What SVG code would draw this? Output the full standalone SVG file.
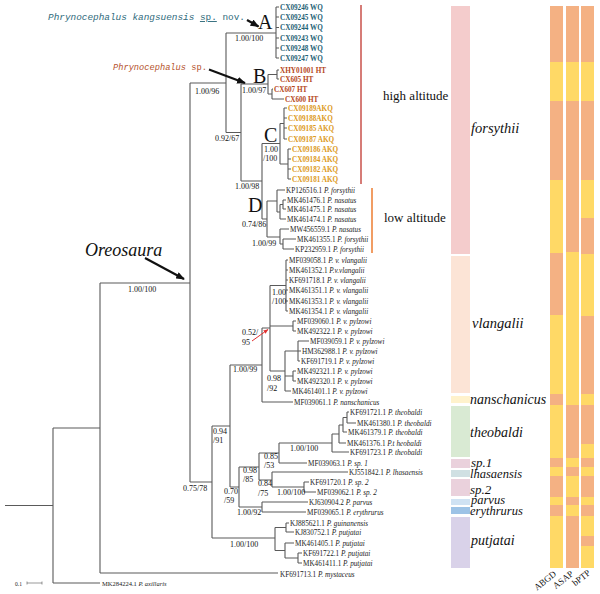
<svg xmlns="http://www.w3.org/2000/svg" width="600" height="594" viewBox="0 0 600 594">
<defs>
<style>
.br{stroke:#5a5a5a;stroke-width:1.1;fill:none}
.t{font-family:"Liberation Serif",serif;font-size:7.2px;fill:#222}
.i{font-style:italic}
.b{font-weight:bold}
.ta{fill:#1f6275}
.tb{fill:#b5471b}
.tc{fill:#dc9a1c}
.s{font-family:"Liberation Serif",serif;font-size:8px;fill:#111}
.big{font-family:"Liberation Serif",serif;font-size:20px;fill:#111}
.sp{font-family:"Liberation Serif",serif;font-style:italic;font-size:14.5px;fill:#111}
.alt{font-family:"Liberation Serif",serif;font-size:13px;fill:#111}
.hd{font-family:"Liberation Mono",monospace}
.o{fill:#f4b183}
.y{fill:#ffd966}
.arw{stroke:#111;stroke-width:2.2;fill:none}
</style>
<marker id="ah" viewBox="0 0 10 8" refX="9" refY="4" markerWidth="9" markerHeight="7" markerUnits="userSpaceOnUse" orient="auto"><path d="M0 0L10 4L0 8z" fill="#111"/></marker>
<marker id="ahr" viewBox="0 0 10 8" refX="9" refY="4" markerWidth="5" markerHeight="4" markerUnits="userSpaceOnUse" orient="auto"><path d="M0 0L10 4L0 8z" fill="#e03030"/></marker>
</defs>
<rect width="600" height="594" fill="#fff"/>

<g id="connectors">
<path class="br" d="M5 505.5H53M53 428V583M53 428H100M53 583H100
M100 283V573M100 283H190M100 573H278
M190 83V482M190 83H226M190 482H212
M226 33V132.5M226 33H276M226 132.5H241
M276 7V58M276 7H279M276 17H279M276 27.5H279M276 38H279M276 48H279M276 58H279
M241 84V181M241 84H268M241 181H262
M268 74.5V94M268 74.5H277M268 94H272
M277 70V79M277 70H279M277 79H279
M272 89V99M272 89H273M272 99H284
M262 143.5V219M262 143.5H280M262 219H267
M280 123.5V164M280 123.5H284M280 164H288
M284 108V139M284 108H287M284 118H287M284 128H287M284 139H287
M288 149V179M288 149H291M288 159H291M288 169H291M288 179H291
M267 201V237M267 201H277M267 237H280
M277 190V212M277 190H285M277 212H280
M280 204.5V219M280 204.5H283M280 219H286
M283 200V209M283 200H286M283 209H286
M280 229V244M280 229H289M280 244H283
M283 239V249M283 239H296M283 249H294
M212 426V538M212 426H230M212 538H275
M230 365V487M230 365H262M230 487H239
M262 328V402M262 328H270M262 402H293
M270 285.5V371M270 285.5H286M270 326H293M270 371H285
M286 260V311M286 260H288M286 270H288M286 280H288M286 290H288M286 301H288M286 311H288
M293 321V331M293 321H296M293 331H296
M285 351V391M285 351H298M285 376H293M285 391H291
M298 341V361M298 341H309M298 351H301M298 361H300
M293 371V381M293 371H296M293 381H296
M239 467V507M239 467H259M239 507H262
M259 453V480M259 453H279M259 480H272
M279 443V463M279 443H332M279 463H307
M332 434V452M332 434H339M332 452H349
M339 425V443M339 425H343M339 443H346
M343 417.5V432M343 417.5H347M343 432H347
M347 412V423M347 412H349M347 423H356
M272 472V487M272 472H348M272 487H304
M304 482V492M304 482H309M304 492H316
M262 502V512M262 502H308M262 512H306
M275 527.5V550.5M275 527.5H286M275 550.5H285
M286 523V532M286 523H289M286 532H294
M285 543V558M285 543H294M285 558H298
M298 553V563M298 553H302M298 563H302"/>
<path class="arw" d="M247 20L258.5 26.5" marker-end="url(#ah)"/>
<path class="arw" d="M209 69.5L245 83" marker-end="url(#ah)"/>
<path class="arw" d="M145 258L184 279" marker-end="url(#ah)"/>
<path d="M252 341L268 329.5" stroke="#e03030" stroke-width="1" marker-end="url(#ahr)"/>
<path d="M361 5V184" stroke="#c9504a" stroke-width="1.5"/>
<path d="M372 188V253" stroke="#ed7d31" stroke-width="1.5"/>
</g>

<g id="header-kangsuensis">
<text class="hd" x="48" y="20" font-size="9.4" fill="#2f6b7c"><tspan font-style="italic">Phrynocephalus kangsuensis</tspan> <tspan text-decoration="underline">sp.</tspan> nov.</text>
</g>
<g id="header-sp">
<text class="hd" x="113" y="70" font-size="8.7" fill="#b5532d"><tspan font-style="italic">Phrynocephalus</tspan> sp.</text>
</g>
<g id="header-oreosaura">
<text x="85" y="256" font-family="Liberation Serif,serif" font-style="italic" font-size="18" fill="#111">Oreosaura</text>
</g>

<g id="clade-letters">
<text class="big" x="258" y="28.5">A</text>
<text class="big" x="253" y="83">B</text>
<text class="big" x="264" y="142">C</text>
<text class="big" x="248" y="212">D</text>
</g>

<g id="supports">
<text class="s" x="235" y="41">1.00/100</text>
<text class="s" x="195" y="94">1.00/96</text>
<text class="s" x="242" y="93">1.00/97</text>
<text class="s" x="215" y="141">0.92/67</text>
<text class="s" x="264" y="152" font-size="8.5">1.00</text>
<text class="s" x="263" y="161" font-size="8.5">/100</text>
<text class="s" x="235" y="189">1.00/98</text>
<text class="s" x="242" y="227">0.74/86</text>
<text class="s" x="252" y="246">1.00/99</text>
<text class="s" x="272" y="295" font-size="8.5">1.00</text>
<text class="s" x="272" y="304" font-size="8.5">/100</text>
<text class="s" x="242" y="335" font-size="7.5">0.52/</text>
<text class="s" x="242" y="344.5" font-size="8.5">95</text>
<text class="s" x="233" y="372">1.00/99</text>
<text class="s" x="267" y="381" font-size="9.5">0.98</text>
<text class="s" x="267" y="391" font-size="9.5">/92</text>
<text class="s" x="213" y="434" font-size="8.5">0.94</text>
<text class="s" x="213" y="443" font-size="8.5">/91</text>
<text class="s" x="290" y="451" font-size="9">1.00/100</text>
<text class="s" x="264" y="459">0.85</text>
<text class="s" x="264" y="468">/53</text>
<text class="s" x="243" y="473">0.98</text>
<text class="s" x="243" y="482">/85</text>
<text class="s" x="258" y="486">0.84</text>
<text class="s" x="258" y="496">/75</text>
<text class="s" x="277" y="495" font-size="8.5">1.00/100</text>
<text class="s" x="183" y="491" font-size="8.5">0.75/78</text>
<text class="s" x="224" y="494" font-size="8.5">0.70</text>
<text class="s" x="224" y="503" font-size="8.5">/59</text>
<text class="s" x="237" y="515" font-size="8.5">1.00/92</text>
<text class="s" x="230" y="547" font-size="9">1.00/100</text>
<text class="s" x="128" y="292" font-size="10.5">1.00/100</text>
</g>

<g id="tips-A" class="t b ta">
<g id="t-CX09246"><text x="280" y="9.5">CX09246 WQ</text></g>
<g id="t-CX09245"><text x="280" y="19.5">CX09245 WQ</text></g>
<g id="t-CX09244"><text x="280" y="30">CX09244 WQ</text></g>
<g id="t-CX09243"><text x="280" y="40.5">CX09243 WQ</text></g>
<g id="t-CX09248"><text x="280" y="50.5">CX09248 WQ</text></g>
<g id="t-CX09247"><text x="280" y="60.5">CX09247 WQ</text></g>
</g>
<g id="tips-B" class="t b tb">
<g id="t-XHY01001"><text x="280" y="72.5">XHY01001 HT</text></g>
<g id="t-CX605"><text x="280" y="81.5">CX605 HT</text></g>
<g id="t-CX607"><text x="274" y="91.5">CX607 HT</text></g>
<g id="t-CX600"><text x="285" y="101.5">CX600 HT</text></g>
</g>
<g id="tips-C" class="t b tc">
<g id="t-CX09189"><text x="288" y="110.5">CX09189AKQ</text></g>
<g id="t-CX09188"><text x="288" y="120.5">CX09188AKQ</text></g>
<g id="t-CX09185"><text x="288" y="130.5">CX09185 AKQ</text></g>
<g id="t-CX09187"><text x="288" y="141.5">CX09187 AKQ</text></g>
<g id="t-CX09186"><text x="292" y="151.5">CX09186 AKQ</text></g>
<g id="t-CX09184"><text x="292" y="161.5">CX09184 AKQ</text></g>
<g id="t-CX09182"><text x="292" y="171.5">CX09182 AKQ</text></g>
<g id="t-CX09181"><text x="292" y="181.5">CX09181 AKQ</text></g>
</g>
<g id="tips-other" class="t">
<g id="t-KP126516"><text x="286" y="192.5">KP126516.1 <tspan class="i">P. forsythii</tspan></text></g>
<g id="t-MK461476"><text x="287" y="202.5">MK461476.1 <tspan class="i">P. nasatus</tspan></text></g>
<g id="t-MK461475"><text x="287" y="211.5">MK461475.1 <tspan class="i">P. nasatus</tspan></text></g>
<g id="t-MK461474"><text x="287" y="221.5">MK461474.1 <tspan class="i">P. nasatus</tspan></text></g>
<g id="t-MW456559"><text x="290" y="231.5">MW456559.1 <tspan class="i">P. nasatus</tspan></text></g>
<g id="t-MK461355"><text x="297" y="241.5">MK461355.1 <tspan class="i">P. forsythii</tspan></text></g>
<g id="t-KP232959"><text x="295" y="251.5">KP232959.1 <tspan class="i">P. forsythii</tspan></text></g>
<g id="t-MF039058"><text x="289" y="262.5">MF039058.1 <tspan class="i">P. v. vlangalii</tspan></text></g>
<g id="t-MK461352"><text x="289" y="272.5">MK461352.1 <tspan class="i">P.v.vlangalii</tspan></text></g>
<g id="t-KF691718"><text x="289" y="282.5">KF691718.1 <tspan class="i">P. v. vlangalii</tspan></text></g>
<g id="t-MK461351"><text x="289" y="292.5">MK461351.1 <tspan class="i">P. v. vlangalii</tspan></text></g>
<g id="t-MK461353"><text x="289" y="303.5">MK461353.1 <tspan class="i">P. v. vlangalii</tspan></text></g>
<g id="t-MK461354"><text x="289" y="313.5">MK461354.1 <tspan class="i">P. v. vlangalii</tspan></text></g>
<g id="t-MF039060"><text x="297" y="323.5">MF039060.1 <tspan class="i">P. v. pylzowi</tspan></text></g>
<g id="t-MK492322"><text x="297" y="333.5">MK492322.1 <tspan class="i">P. v. pylzowi</tspan></text></g>
<g id="t-MF039059"><text x="310" y="343.5">MF039059.1 <tspan class="i">P. v. pylzowi</tspan></text></g>
<g id="t-HM362988"><text x="302" y="353.5">HM362988.1 <tspan class="i">P. v. pylzowi</tspan></text></g>
<g id="t-KF691719"><text x="301" y="363.5">KF691719.1 <tspan class="i">P. v. pylzowi</tspan></text></g>
<g id="t-MK492321"><text x="297" y="373.5">MK492321.1 <tspan class="i">P. v. pylzowi</tspan></text></g>
<g id="t-MK492320"><text x="297" y="383.5">MK492320.1 <tspan class="i">P. v. pylzowi</tspan></text></g>
<g id="t-MK461401"><text x="292" y="393.5">MK461401.1 <tspan class="i">P. v. pylzowi</tspan></text></g>
<g id="t-MF039061"><text x="294" y="404.5">MF039061.1 <tspan class="i">P. nanschanicus</tspan></text></g>
<g id="t-KF691721"><text x="350" y="414.5">KF691721.1 <tspan class="i">P. theobaldi</tspan></text></g>
<g id="t-MK461380"><text x="357" y="425.5">MK461380.1 <tspan class="i">P. theobaldi</tspan></text></g>
<g id="t-MK461379"><text x="348" y="434.5">MK461379.1 <tspan class="i">P. theobaldi</tspan></text></g>
<g id="t-MK461376"><text x="347" y="445.5">MK461376.1 <tspan class="i">P.t heobaldi</tspan></text></g>
<g id="t-KF691723"><text x="350" y="454.5">KF691723.1 <tspan class="i">P. theobaldi</tspan></text></g>
<g id="t-MF039063"><text x="308" y="465.5">MF039063.1 <tspan class="i">P. sp. 1</tspan></text></g>
<g id="t-KJ551842"><text x="349" y="474.5">KJ551842.1 <tspan class="i">P. lhasaensis</tspan></text></g>
<g id="t-KF691720"><text x="310" y="484.5">KF691720.1 <tspan class="i">P. sp. 2</tspan></text></g>
<g id="t-MF039062"><text x="317" y="494.5">MF039062.1 <tspan class="i">P. sp. 2</tspan></text></g>
<g id="t-KJ630904"><text x="309" y="504.5">KJ630904.2 <tspan class="i">P. parvus</tspan></text></g>
<g id="t-MF039065"><text x="307" y="514.5">MF039065.1 <tspan class="i">P. erythrurus</tspan></text></g>
<g id="t-KJ885621"><text x="290" y="525.5">KJ885621.1 <tspan class="i">P. guinanensis</tspan></text></g>
<g id="t-KJ830752"><text x="295" y="534.5">KJ830752.1 <tspan class="i">P. putjatai</tspan></text></g>
<g id="t-MK461405"><text x="295" y="545.5">MK461405.1 <tspan class="i">P. putjatai</tspan></text></g>
<g id="t-KF691722"><text x="303" y="555.5">KF691722.1 <tspan class="i">P. putjatai</tspan></text></g>
<g id="t-MK461411"><text x="303" y="565.5">MK461411.1 <tspan class="i">P. putjatai</tspan></text></g>
<g id="t-KF691713"><text x="280" y="576.5">KF691713.1 <tspan class="i">P. mystaceus</tspan></text></g>
<g id="t-MK284224"><text x="102" y="585.5" font-size="6.5">MK284224.1 <tspan class="i">P. axillaris</tspan></text></g>
</g>

<g id="scale">
<text x="15" y="585.5" font-family="Liberation Serif,serif" font-size="5.5" fill="#222">0.1</text>
<path d="M27 583H42M27 581.5V584.5M42 581.5V584.5" stroke="#555" stroke-width="0.6"/>
</g>

<g id="altitude">
<text class="alt" x="383" y="100">high altitude</text>
<text class="alt" x="384" y="222">low altitude</text>
</g>

<g id="species-bar">
<rect x="451" y="6" width="19" height="248" fill="#f4cccc"/>
<rect x="451" y="256" width="19" height="137" fill="#fce4d6"/>
<rect x="451" y="396" width="19" height="7" fill="#fff2cc"/>
<rect x="451" y="406" width="19" height="51" fill="#d9ead3"/>
<rect x="451" y="459" width="19" height="9" fill="#ead1dc"/>
<rect x="451" y="470" width="19" height="7" fill="#d0e0e3"/>
<rect x="451" y="479" width="19" height="17" fill="#ead1dc"/>
<rect x="451" y="499" width="19" height="6" fill="#cfe2f3"/>
<rect x="451" y="507" width="19" height="7" fill="#9dc3e6"/>
<rect x="451" y="517" width="19" height="51" fill="#d9d2e9"/>
</g>
<g id="species-labels" class="sp">
<text x="471" y="133">forsythii</text>
<text x="472" y="328">vlangalii</text>
<text x="470" y="404" font-size="14">nanschanicus</text>
<text x="470" y="437" font-size="14">theobaldi</text>
<text x="471" y="466.5" font-size="13">sp.1</text>
<text x="470" y="478" font-size="12.5">lhasaensis</text>
<text x="470" y="494" font-size="13">sp.2</text>
<text x="471" y="503.5" font-size="12.5">parvus</text>
<text x="470" y="514.5" font-size="12.5">erythrurus</text>
<text x="471" y="545" font-size="14">putjatai</text>
</g>

<g id="abgd">
<rect class="y" x="550" y="6" width="13" height="562"/>
<rect class="o" x="550" y="6" width="13" height="56"/>
<rect class="o" x="550" y="101" width="13" height="79"/>
<rect class="o" x="550" y="253" width="13" height="62"/>
<rect class="o" x="550" y="394" width="13" height="11"/>
<rect class="o" x="550" y="458" width="13" height="9"/>
<rect class="o" x="550" y="476" width="13" height="21"/>
<rect class="o" x="550" y="505" width="13" height="11"/>
</g>
<g id="asap">
<rect class="y" x="566" y="6" width="13" height="562"/>
<rect class="o" x="566" y="6" width="13" height="56"/>
<rect class="o" x="566" y="101" width="13" height="151"/>
<rect class="o" x="566" y="405" width="13" height="53"/>
<rect class="o" x="566" y="467" width="13" height="9"/>
<rect class="o" x="566" y="497" width="13" height="8"/>
<rect class="o" x="566" y="516" width="13" height="52"/>
</g>
<g id="bptp">
<rect class="y" x="581" y="6" width="13" height="562"/>
<rect class="o" x="581" y="6" width="13" height="56"/>
<rect class="o" x="581" y="101" width="13" height="79"/>
<rect class="o" x="581" y="218" width="13" height="36"/>
<rect class="o" x="581" y="316" width="13" height="78"/>
<rect class="o" x="581" y="405" width="13" height="39"/>
<rect class="o" x="581" y="458" width="13" height="9"/>
<rect class="o" x="581" y="476" width="13" height="21"/>
<rect class="o" x="581" y="505" width="13" height="11"/>
<rect class="o" x="581" y="536" width="13" height="10"/>
</g>
<g id="method-labels" font-family="Liberation Serif,serif" font-size="9" fill="#111" text-anchor="end">
<text transform="translate(557,575) rotate(-38)">ABGD</text>
<text transform="translate(574,575) rotate(-38)">ASAP</text>
<text transform="translate(591,574) rotate(-38)">bPTP</text>
</g>
</svg>
